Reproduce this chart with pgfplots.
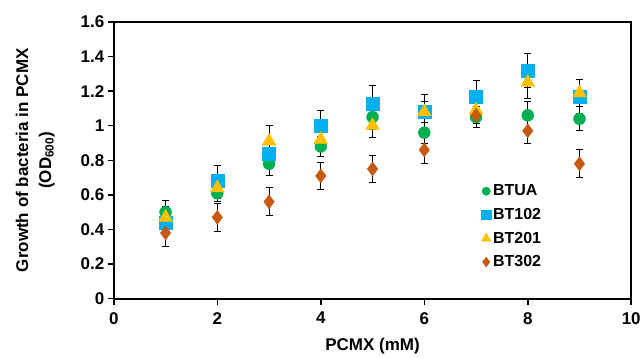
\documentclass[border=0pt]{standalone}
\usepackage{pgfplots}
\pgfplotsset{compat=1.18}
\usepackage{fontspec}
\setmainfont{Liberation Sans}
\definecolor{cg}{HTML}{00B050}
\definecolor{cb}{HTML}{00B0F0}
\definecolor{cy}{HTML}{FFC000}
\definecolor{co}{HTML}{C55A11}
\begin{document}
\begin{tikzpicture}
\begin{axis}[
  scale only axis,
  width=518pt, height=277pt,
  xmin=0, xmax=10, ymin=0, ymax=1.6,
  xtick={0,2,...,10},
  ytick={0,0.2,...,1.6},
  yticklabels={0,0.2,0.4,0.6,0.8,1,1.2,1.4,1.6},
  tick align=outside, tick pos=left,
  major tick length=6pt,
  axis line style={line width=2pt},
  every tick/.style={black, line width=1.5pt},
  /pgf/number format/assume math mode=true,
  tick label style={font=\fontsize{17}{19}\selectfont\bfseries},
  xticklabel style={yshift=-4pt},
  xlabel={PCMX (mM)},
  xlabel style={font=\fontsize{17}{19}\selectfont\bfseries, at={(axis description cs:0.5,-0.173)}, anchor=center},
  ylabel={Growth of bacteria in PCMX\\(OD\textsubscript{600})},
  ylabel style={font=\fontsize{17}{23}\selectfont\bfseries, align=center, at={(axis description cs:-0.152,0.5)}, anchor=center},
  legend style={draw=none, fill=none, font=\fontsize{16}{18}\selectfont\bfseries, at={(axis cs:7.1,0.67)}, anchor=north west, row sep=7pt, legend cell align=left, inner sep=0pt},
  legend image code/.code={\draw[#1,/tikz/every mark/.append style={scale=0.7}] plot coordinates {(0.3em,0cm)};},
  error bars/y dir=both, error bars/y explicit,
  error bars/error bar style={black, line width=1pt},
  error bars/error mark options={rotate=90, mark size=3.5pt, black, line width=1pt},
]
\addplot[only marks, mark=*, mark size=6pt, color=cg, mark options={draw=cg, fill=cg}] coordinates {
 (1,0.50) +- (0,0.07) (2,0.61) +- (0,0.05) (3,0.78) +- (0,0.07) (4,0.88) +- (0,0.06)
 (5,1.05) +- (0,0.07) (6,0.96) +- (0,0.06) (7,1.05) +- (0,0.06) (8,1.06) +- (0,0.08) (9,1.04) +- (0,0.07)};
\addlegendentry{BTUA}
\addplot[only marks, mark=square*, mark size=6.5pt, color=cb, mark options={draw=cb, fill=cb}] coordinates {
 (1,0.44) +- (0,0.05) (2,0.68) +- (0,0.09) (3,0.84) +- (0,0.06) (4,1.00) +- (0,0.09)
 (5,1.13) +- (0,0.10) (6,1.08) +- (0,0.10) (7,1.17) +- (0,0.09) (8,1.32) +- (0,0.10) (9,1.17) +- (0,0.10)};
\addlegendentry{BT102}
\addplot[only marks, mark=triangle*, mark size=8pt, color=cy, mark options={draw=cy, fill=cy}] coordinates {
 (1,0.47) +- (0,0.06) (2,0.64) +- (0,0.06) (3,0.91) +- (0,0.09) (4,0.92) +- (0,0.05)
 (5,1.00) +- (0,0.07) (6,1.08) +- (0,0.06) (7,1.09) +- (0,0.05) (8,1.25) +- (0,0.09) (9,1.19) +- (0,0.08)};
\addlegendentry{BT201}
\addplot[only marks, mark=diamond*, mark size=7pt, color=co, mark options={draw=co, fill=co}] coordinates {
 (1,0.38) +- (0,0.08) (2,0.47) +- (0,0.08) (3,0.56) +- (0,0.08) (4,0.71) +- (0,0.08)
 (5,0.75) +- (0,0.08) (6,0.86) +- (0,0.08) (7,1.06) +- (0,0.05) (8,0.97) +- (0,0.07) (9,0.78) +- (0,0.08)};
\addlegendentry{BT302}
\end{axis}
\path (current axis.south west) ++(-114pt,-59pt) coordinate (bbA);
\path[use as bounding box] (bbA) rectangle ++(644pt,358pt);
\end{tikzpicture}
\end{document}
